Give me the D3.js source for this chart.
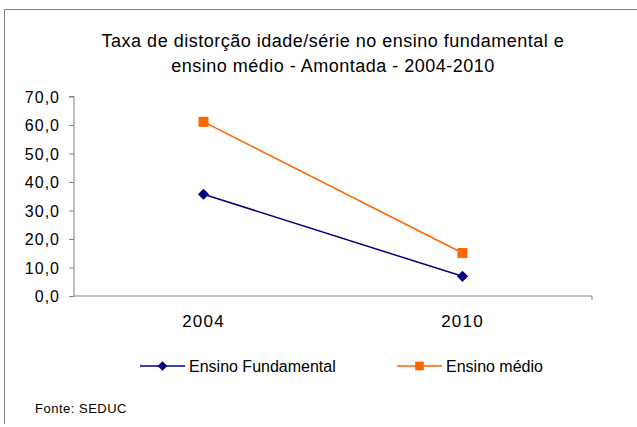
<!DOCTYPE html>
<html>
<head>
<meta charset="utf-8">
<script src="https://cdn.jsdelivr.net/npm/d3@7"></script>
<style>
  body { margin: 0; background: #fff; }
  svg { font-family: "Liberation Sans", Arial, sans-serif; }
</style>
</head>
<body>
<div id="chart"></div>
<script>
// chart data
const years = ["2004", "2010"];
const fundamental = [35.7, 6.9];
const medio = [61.1, 15.1];
const yTicks = [0, 10, 20, 30, 40, 50, 60, 70];
const titleLines = ["Taxa de distorção idade/série no ensino fundamental e", "ensino médio - Amontada - 2004-2010"];

const W = 637, H = 427;
const svg = d3.select("#chart").append("svg")
  .attr("width", W)
  .attr("height", H);

// frame (only top and left edges visible)
svg.append("path")
  .attr("d", "M4.5,424 V9.5 H637")
  .attr("fill", "none")
  .attr("stroke", "#808080")
  .attr("stroke-width", 1);

// title
svg.append("g").selectAll("text")
  .data(titleLines)
  .join("text")
  .attr("x", 333)
  .attr("y", (d, i) => 47 + i * 25)
  .attr("text-anchor", "middle")
  .attr("font-size", 18)
  .attr("letter-spacing", 0.5)
  .attr("fill", "#000")
  .text(d => d);

const plotL = 74, plotR = 592, plotT = 96.5, plotB = 296;

const x = d3.scaleBand().domain(years).range([plotL, plotR]);
const y = d3.scaleLinear().domain([0, 70]).range([plotB, plotT]);

// y axis
const yAxis = svg.append("g")
  .attr("transform", `translate(${plotL},0)`)
  .call(d3.axisLeft(y).tickValues(yTicks).tickSize(5).tickPadding(9)
    .tickFormat(d => d3.format(".1f")(d).replace(".", ",")));
yAxis.select(".domain").attr("stroke", "#808080").attr("d", `M-5,${plotT}H0V${plotB}`);
yAxis.selectAll(".tick line").attr("stroke", "#808080");
yAxis.selectAll(".tick text").attr("font-size", 16).attr("letter-spacing", 1)
  .attr("fill", "#000").attr("dy", "0.36em")
  .attr("font-family", "Liberation Sans, Arial, sans-serif");

// x axis
const xAxis = svg.append("g")
  .attr("transform", `translate(0,${plotB})`)
  .call(d3.axisBottom(x).tickSize(0).tickPadding(19));
xAxis.select(".domain").attr("stroke", "#808080")
  .attr("d", `M${plotL},0H${plotR}V4`);
xAxis.selectAll(".tick text").attr("font-size", 17).attr("letter-spacing", 1.2)
  .attr("fill", "#000")
  .attr("font-family", "Liberation Sans, Arial, sans-serif");

const line = d3.line()
  .x((d, i) => x(years[i]) + x.bandwidth() / 2)
  .y(d => y(d));

const series = [
  { name: "Ensino Fundamental", values: fundamental, color: "#000080", shape: d3.symbolDiamond2, size: 80, lsize: 60 },
  { name: "Ensino médio", values: medio, color: "#FF6600", shape: d3.symbolSquare, size: 100, lsize: 75 }
];

series.forEach(s => {
  svg.append("path")
    .datum(s.values)
    .attr("fill", "none")
    .attr("stroke", s.color)
    .attr("stroke-width", 1.5)
    .attr("d", line);
  svg.append("g").selectAll("path")
    .data(s.values)
    .join("path")
    .attr("transform", (d, i) => `translate(${x(years[i]) + x.bandwidth() / 2},${y(d)})`)
    .attr("d", d3.symbol().type(s.shape).size(s.size))
    .attr("fill", s.color);
});

// legend
const legendX = [140, 397];
const legend = svg.append("g").selectAll("g")
  .data(series)
  .join("g")
  .attr("transform", (d, i) => `translate(${legendX[i]},366)`);
legend.append("line")
  .attr("x1", 0).attr("x2", 45)
  .attr("stroke", d => d.color)
  .attr("stroke-width", 1.5);
legend.append("path")
  .attr("transform", "translate(22.5,0)")
  .attr("d", d => d3.symbol().type(d.shape).size(d.lsize)())
  .attr("fill", d => d.color);
legend.append("text")
  .attr("x", 49)
  .attr("y", 6)
  .attr("font-size", 16)
  .attr("fill", "#000")
  .text(d => d.name);

// source
svg.append("text")
  .attr("x", 35)
  .attr("y", 413)
  .attr("font-size", 13)
  .attr("letter-spacing", 0.5)
  .attr("fill", "#000")
  .text("Fonte: SEDUC");
</script>
</body>
</html>
